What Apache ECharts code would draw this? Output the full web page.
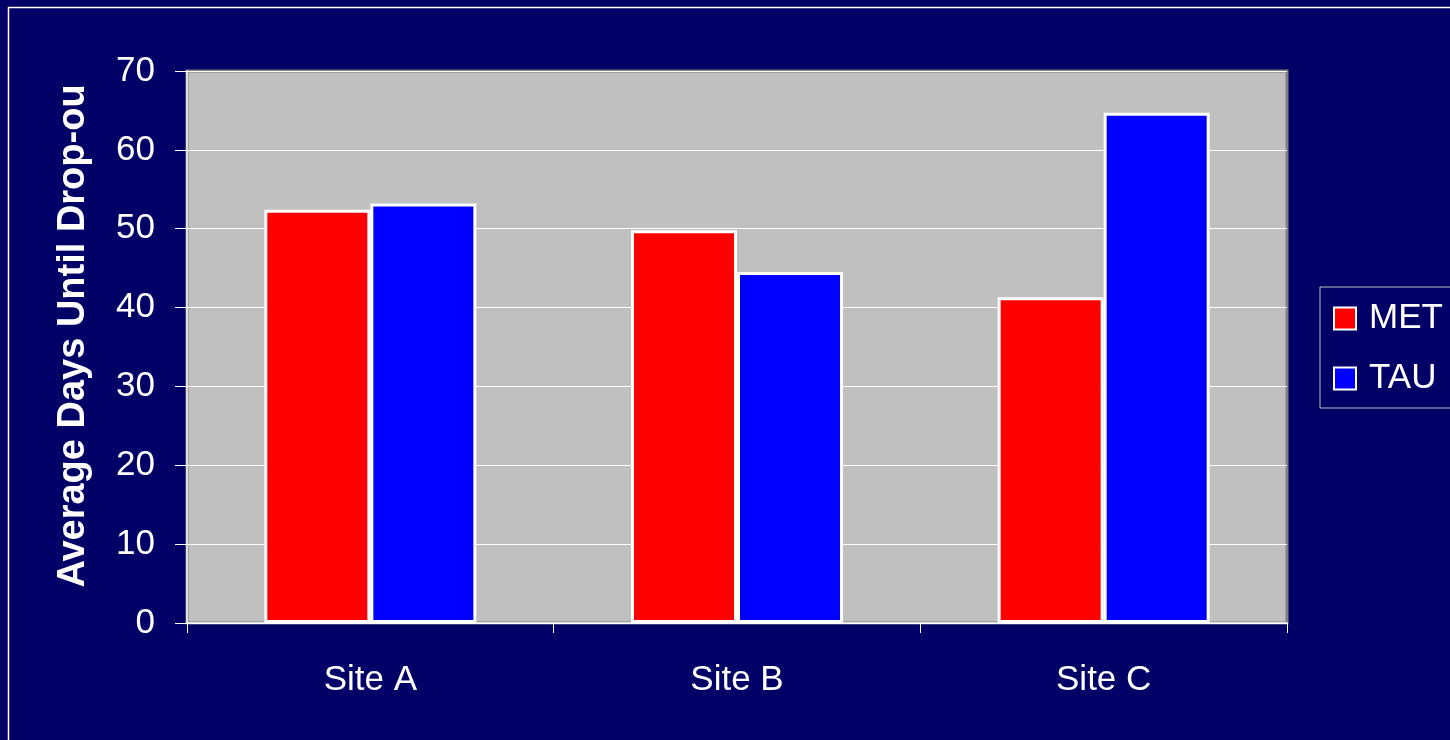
<!DOCTYPE html>
<html lang="en">
<head>
<meta charset="UTF-8">
<title>Average Days Until Drop-out</title>
<script src="https://cdn.jsdelivr.net/npm/echarts@6/dist/echarts.min.js"></script>
<style>
  html, body { margin: 0; padding: 0; background: #000066; }
  #main { width: 1450px; height: 740px; }
</style>
</head>
<body>
<div id="main"></div>
<script>
// data
const sites = ['Site A', 'Site B', 'Site C'];
const metValues = [52.4, 49.8, 41.3];
const tauValues = [53.2, 44.5, 64.7];
const yTicks = { min: 0, max: 70, step: 10 };
const yTitle = 'Average Days Until Drop-ou';

const FONT = '"Liberation Sans", Arial, sans-serif';

var chart = echarts.init(document.getElementById('main'));

var option = {
  backgroundColor: '#000066',
  animation: false,
  textStyle: { fontFamily: FONT },
  graphic: [{
    type: 'rect',
    shape: { x: 8.5, y: 7.5, width: 1500, height: 800 },
    style: { fill: 'none', stroke: '#ffffff', lineWidth: 1.5 },
    silent: true
  }],
  grid: {
    left: 187, right: 163, top: 71, bottom: 117,
    show: true,
    backgroundColor: '#C0C0C0',
    borderColor: '#808080',
    borderWidth: 3
  },
  legend: {
    orient: 'vertical',
    left: 1320, top: 287,
    padding: [14, 40, 12, 13],
    itemGap: 25,
    itemWidth: 22, itemHeight: 22,
    borderColor: '#C0C0C0',
    borderWidth: 1,
    icon: 'rect',
    textStyle: { color: '#ffffff', fontSize: 35, fontFamily: FONT, padding: [0, 0, 0, 8] },
    data: ['MET', 'TAU']
  },
  xAxis: {
    type: 'category',
    data: sites,
    axisLine: { lineStyle: { color: '#ffffff', width: 1.5 } },
    axisTick: { show: true, length: 10, lineStyle: { color: '#ffffff', width: 1 } },
    axisLabel: { color: '#ffffff', fontSize: 35, fontFamily: FONT, margin: 40 }
  },
  yAxis: {
    type: 'value',
    min: yTicks.min, max: yTicks.max, interval: yTicks.step,
    name: yTitle,
    nameLocation: 'middle',
    nameGap: 94,
    nameTextStyle: {
      color: '#ffffff', fontSize: 38, fontWeight: 'bold', fontFamily: FONT,
      padding: [0, 0, 0, 22]
    },
    axisLine: { show: true, lineStyle: { color: '#ffffff', width: 1.5 } },
    axisTick: { show: true, length: 12, lineStyle: { color: '#ffffff', width: 1 } },
    axisLabel: { color: '#ffffff', fontSize: 35, fontFamily: FONT, margin: 32 },
    splitLine: { lineStyle: { color: '#ffffff', width: 1 } }
  },
  series: [
    {
      name: 'MET', type: 'bar', data: metValues,
      barWidth: 106, barGap: '0%',
      itemStyle: { color: '#ff0000', borderColor: '#ffffff', borderWidth: 3 }
    },
    {
      name: 'TAU', type: 'bar', data: tauValues,
      barWidth: 106, barGap: '0%',
      itemStyle: { color: '#0000ff', borderColor: '#ffffff', borderWidth: 3 }
    }
  ]
};

chart.setOption(option);
</script>
</body>
</html>
